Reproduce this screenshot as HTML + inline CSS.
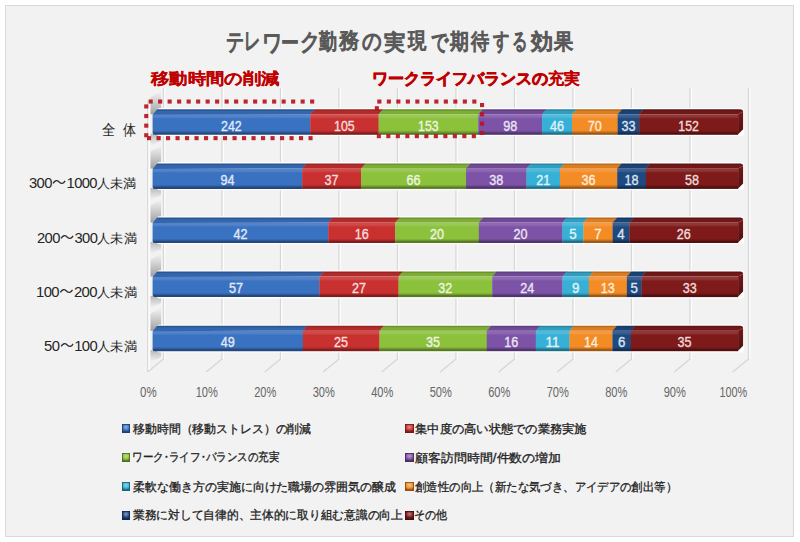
<!DOCTYPE html>
<html lang="ja"><head><meta charset="utf-8">
<style>
html,body{margin:0;padding:0;background:#fff;}
body{width:800px;height:542px;position:relative;overflow:hidden;font-family:"Liberation Sans",sans-serif;}
.frame{position:absolute;left:4.5px;top:5px;width:787.7px;height:530.1px;border:1.8px solid #d9d9d9;background:#f2f2f2;}
svg.ch{position:absolute;left:0;top:0}
.dl{font-family:"Liberation Sans",sans-serif;font-size:14px;}
.ax{font-family:"Liberation Sans",sans-serif;font-size:14px;fill:#666666;}
.tx{position:absolute;line-height:1;white-space:nowrap;transform-origin:0 0}
.nd{display:inline-block;width:0.5em;text-indent:-0.25em;overflow:visible}
.wv{display:inline-block;vertical-align:0.15em;margin:0 0.5px}
.tc{position:absolute;top:31.0px;width:30px;text-align:center;font-size:22.0px;line-height:1;color:#595959;-webkit-text-stroke:1.4px #595959}
.dg{font-size:1.13em;letter-spacing:-0.04em}
.lm{position:absolute;width:8.3px;height:9.2px}
</style></head><body>
<div class="frame"></div>

<svg class="ch" width="800" height="542" viewBox="0 0 800 542">
<defs><linearGradient id="f0" x1="0" y1="0" x2="0" y2="1">
<stop offset="0" stop-color="#5384c9"/><stop offset="0.12" stop-color="#5384c9"/>
<stop offset="0.22" stop-color="#3a72c2"/><stop offset="0.78" stop-color="#3a72c2"/>
<stop offset="0.86" stop-color="#3162a6"/><stop offset="0.92" stop-color="#25487c"/><stop offset="1" stop-color="#25487c"/></linearGradient>
<linearGradient id="c0" x1="0" y1="0" x2="0" y2="1"><stop offset="0" stop-color="#3466ae"/><stop offset="0.25" stop-color="#3162a6"/><stop offset="1" stop-color="#25487c"/></linearGradient>
<linearGradient id="t0" x1="0" y1="0" x2="0" y2="1">
<stop offset="0" stop-color="#2c5693"/><stop offset="0.2" stop-color="#2c5693"/>
<stop offset="0.4" stop-color="#3466ae"/><stop offset="1" stop-color="#3466ae"/></linearGradient><linearGradient id="f1" x1="0" y1="0" x2="0" y2="1">
<stop offset="0" stop-color="#d04a4a"/><stop offset="0.12" stop-color="#d04a4a"/>
<stop offset="0.22" stop-color="#c93030"/><stop offset="0.78" stop-color="#c93030"/>
<stop offset="0.86" stop-color="#ac2929"/><stop offset="0.92" stop-color="#801e1e"/><stop offset="1" stop-color="#801e1e"/></linearGradient>
<linearGradient id="c1" x1="0" y1="0" x2="0" y2="1"><stop offset="0" stop-color="#b42b2b"/><stop offset="0.25" stop-color="#ac2929"/><stop offset="1" stop-color="#801e1e"/></linearGradient>
<linearGradient id="t1" x1="0" y1="0" x2="0" y2="1">
<stop offset="0" stop-color="#982424"/><stop offset="0.2" stop-color="#982424"/>
<stop offset="0.4" stop-color="#b42b2b"/><stop offset="1" stop-color="#b42b2b"/></linearGradient><linearGradient id="f2" x1="0" y1="0" x2="0" y2="1">
<stop offset="0" stop-color="#9ac955"/><stop offset="0.12" stop-color="#9ac955"/>
<stop offset="0.22" stop-color="#8cc13c"/><stop offset="0.78" stop-color="#8cc13c"/>
<stop offset="0.86" stop-color="#78a533"/><stop offset="0.92" stop-color="#597b26"/><stop offset="1" stop-color="#597b26"/></linearGradient>
<linearGradient id="c2" x1="0" y1="0" x2="0" y2="1"><stop offset="0" stop-color="#7ead36"/><stop offset="0.25" stop-color="#78a533"/><stop offset="1" stop-color="#597b26"/></linearGradient>
<linearGradient id="t2" x1="0" y1="0" x2="0" y2="1">
<stop offset="0" stop-color="#6a922d"/><stop offset="0.2" stop-color="#6a922d"/>
<stop offset="0.4" stop-color="#7ead36"/><stop offset="1" stop-color="#7ead36"/></linearGradient><linearGradient id="f3" x1="0" y1="0" x2="0" y2="1">
<stop offset="0" stop-color="#8d69b3"/><stop offset="0.12" stop-color="#8d69b3"/>
<stop offset="0.22" stop-color="#7d53a8"/><stop offset="0.78" stop-color="#7d53a8"/>
<stop offset="0.86" stop-color="#6b4790"/><stop offset="0.92" stop-color="#50356b"/><stop offset="1" stop-color="#50356b"/></linearGradient>
<linearGradient id="c3" x1="0" y1="0" x2="0" y2="1"><stop offset="0" stop-color="#704a97"/><stop offset="0.25" stop-color="#6b4790"/><stop offset="1" stop-color="#50356b"/></linearGradient>
<linearGradient id="t3" x1="0" y1="0" x2="0" y2="1">
<stop offset="0" stop-color="#5f3f7f"/><stop offset="0.2" stop-color="#5f3f7f"/>
<stop offset="0.4" stop-color="#704a97"/><stop offset="1" stop-color="#704a97"/></linearGradient><linearGradient id="f4" x1="0" y1="0" x2="0" y2="1">
<stop offset="0" stop-color="#50badb"/><stop offset="0.12" stop-color="#50badb"/>
<stop offset="0.22" stop-color="#36b0d6"/><stop offset="0.78" stop-color="#36b0d6"/>
<stop offset="0.86" stop-color="#2e97b8"/><stop offset="0.92" stop-color="#227088"/><stop offset="1" stop-color="#227088"/></linearGradient>
<linearGradient id="c4" x1="0" y1="0" x2="0" y2="1"><stop offset="0" stop-color="#309ec0"/><stop offset="0.25" stop-color="#2e97b8"/><stop offset="1" stop-color="#227088"/></linearGradient>
<linearGradient id="t4" x1="0" y1="0" x2="0" y2="1">
<stop offset="0" stop-color="#2985a2"/><stop offset="0.2" stop-color="#2985a2"/>
<stop offset="0.4" stop-color="#309ec0"/><stop offset="1" stop-color="#309ec0"/></linearGradient><linearGradient id="f5" x1="0" y1="0" x2="0" y2="1">
<stop offset="0" stop-color="#f59a42"/><stop offset="0.12" stop-color="#f59a42"/>
<stop offset="0.22" stop-color="#f48c26"/><stop offset="0.78" stop-color="#f48c26"/>
<stop offset="0.86" stop-color="#d17820"/><stop offset="0.92" stop-color="#9c5918"/><stop offset="1" stop-color="#9c5918"/></linearGradient>
<linearGradient id="c5" x1="0" y1="0" x2="0" y2="1"><stop offset="0" stop-color="#db7e22"/><stop offset="0.25" stop-color="#d17820"/><stop offset="1" stop-color="#9c5918"/></linearGradient>
<linearGradient id="t5" x1="0" y1="0" x2="0" y2="1">
<stop offset="0" stop-color="#b96a1c"/><stop offset="0.2" stop-color="#b96a1c"/>
<stop offset="0.4" stop-color="#db7e22"/><stop offset="1" stop-color="#db7e22"/></linearGradient><linearGradient id="f6" x1="0" y1="0" x2="0" y2="1">
<stop offset="0" stop-color="#3b6192"/><stop offset="0.12" stop-color="#3b6192"/>
<stop offset="0.22" stop-color="#1e4a82"/><stop offset="0.78" stop-color="#1e4a82"/>
<stop offset="0.86" stop-color="#193f6f"/><stop offset="0.92" stop-color="#132f53"/><stop offset="1" stop-color="#132f53"/></linearGradient>
<linearGradient id="c6" x1="0" y1="0" x2="0" y2="1"><stop offset="0" stop-color="#1b4275"/><stop offset="0.25" stop-color="#193f6f"/><stop offset="1" stop-color="#132f53"/></linearGradient>
<linearGradient id="t6" x1="0" y1="0" x2="0" y2="1">
<stop offset="0" stop-color="#163862"/><stop offset="0.2" stop-color="#163862"/>
<stop offset="0.4" stop-color="#1b4275"/><stop offset="1" stop-color="#1b4275"/></linearGradient><linearGradient id="f7" x1="0" y1="0" x2="0" y2="1">
<stop offset="0" stop-color="#8e3737"/><stop offset="0.12" stop-color="#8e3737"/>
<stop offset="0.22" stop-color="#7e1a1a"/><stop offset="0.78" stop-color="#7e1a1a"/>
<stop offset="0.86" stop-color="#6c1616"/><stop offset="0.92" stop-color="#501010"/><stop offset="1" stop-color="#501010"/></linearGradient>
<linearGradient id="c7" x1="0" y1="0" x2="0" y2="1"><stop offset="0" stop-color="#711717"/><stop offset="0.25" stop-color="#6c1616"/><stop offset="1" stop-color="#501010"/></linearGradient>
<linearGradient id="t7" x1="0" y1="0" x2="0" y2="1">
<stop offset="0" stop-color="#5f1313"/><stop offset="0.2" stop-color="#5f1313"/>
<stop offset="0.4" stop-color="#711717"/><stop offset="1" stop-color="#711717"/></linearGradient><linearGradient id="shu" x1="0" y1="0" x2="0" y2="1"><stop offset="0" stop-color="#999" stop-opacity="0"/><stop offset="1" stop-color="#8a8a8a" stop-opacity="0.8"/></linearGradient><linearGradient id="shd" x1="0" y1="0" x2="0" y2="1"><stop offset="0" stop-color="#959595" stop-opacity="0.65"/><stop offset="1" stop-color="#aaa" stop-opacity="0"/></linearGradient></defs>
<polyline points="163.5,88 163.5,359 147.7,372" fill="none" stroke="#d6d6d6" stroke-width="1.3"/>
<line x1="164.8" y1="88" x2="164.8" y2="359" stroke="#ffffff" stroke-width="1"/>
<polyline points="222.0,88 222.0,359 206.2,372" fill="none" stroke="#d6d6d6" stroke-width="1.3"/>
<line x1="223.3" y1="88" x2="223.3" y2="359" stroke="#ffffff" stroke-width="1"/>
<polyline points="280.5,88 280.5,359 264.7,372" fill="none" stroke="#d6d6d6" stroke-width="1.3"/>
<line x1="281.8" y1="88" x2="281.8" y2="359" stroke="#ffffff" stroke-width="1"/>
<polyline points="339.0,88 339.0,359 323.2,372" fill="none" stroke="#d6d6d6" stroke-width="1.3"/>
<line x1="340.3" y1="88" x2="340.3" y2="359" stroke="#ffffff" stroke-width="1"/>
<polyline points="397.5,88 397.5,359 381.7,372" fill="none" stroke="#d6d6d6" stroke-width="1.3"/>
<line x1="398.8" y1="88" x2="398.8" y2="359" stroke="#ffffff" stroke-width="1"/>
<polyline points="456.0,88 456.0,359 440.2,372" fill="none" stroke="#d6d6d6" stroke-width="1.3"/>
<line x1="457.3" y1="88" x2="457.3" y2="359" stroke="#ffffff" stroke-width="1"/>
<polyline points="514.5,88 514.5,359 498.7,372" fill="none" stroke="#d6d6d6" stroke-width="1.3"/>
<line x1="515.8" y1="88" x2="515.8" y2="359" stroke="#ffffff" stroke-width="1"/>
<polyline points="573.0,88 573.0,359 557.2,372" fill="none" stroke="#d6d6d6" stroke-width="1.3"/>
<line x1="574.3" y1="88" x2="574.3" y2="359" stroke="#ffffff" stroke-width="1"/>
<polyline points="631.5,88 631.5,359 615.7,372" fill="none" stroke="#d6d6d6" stroke-width="1.3"/>
<line x1="632.8" y1="88" x2="632.8" y2="359" stroke="#ffffff" stroke-width="1"/>
<polyline points="690.0,88 690.0,359 674.2,372" fill="none" stroke="#d6d6d6" stroke-width="1.3"/>
<line x1="691.3" y1="88" x2="691.3" y2="359" stroke="#ffffff" stroke-width="1"/>
<polyline points="748.5,88 748.5,359 732.7,372" fill="none" stroke="#d6d6d6" stroke-width="1.3"/>
<line x1="749.8" y1="88" x2="749.8" y2="359" stroke="#ffffff" stroke-width="1"/>
<polyline points="147.7,101 147.7,372" fill="none" stroke="#dadada" stroke-width="1.3"/>
<line x1="149.2" y1="101" x2="149.2" y2="370" stroke="#ffffff" stroke-width="1.2"/>
<polygon points="150.5,97.3 161,91.3 161,114.3 150.5,114.3" fill="url(#shu)"/>
<polygon points="150.5,133.8 161,133.8 161,140.8 150.5,145.8" fill="url(#shd)"/>
<rect x="156.6" y="108.0" width="587.5" height="28.1" rx="3" fill="#ffffff" opacity="0.9"/>
<path d="M154.6,114.3 L310.5095661846496,114.3 L310.5095661846496,134.8 L154.6,134.8 Q152.6,134.8 152.6,132.8 L152.6,115.3 Q152.6,114.3 154.6,114.3 Z" fill="url(#f0)"/>
<path d="M152.6,114.8 L157.1,109.3 L315.0095661846496,109.3 L310.5095661846496,114.3 Z" fill="url(#t0)"/>
<rect x="310.2095661846496" y="114.3" width="68.68431590656284" height="20.5" fill="url(#f1)"/>
<path d="M310.2095661846496,114.3 L314.7095661846496,109.3 L383.39388209121245,109.3 L378.89388209121245,114.3 Z" fill="url(#t1)"/>
<rect x="378.59388209121244" y="114.3" width="99.94571746384877" height="20.5" fill="url(#f2)"/>
<path d="M378.59388209121244,114.3 L383.09388209121244,109.3 L483.0395995550612,109.3 L478.5395995550612,114.3 Z" fill="url(#t2)"/>
<rect x="478.2395995550612" y="114.3" width="64.12536151279191" height="20.5" fill="url(#f3)"/>
<path d="M478.2395995550612,114.3 L482.7395995550612,109.3 L546.8649610678531,109.3 L542.3649610678531,114.3 Z" fill="url(#t3)"/>
<rect x="542.0649610678531" y="114.3" width="30.258843159065623" height="20.5" fill="url(#f4)"/>
<path d="M542.0649610678531,114.3 L546.5649610678531,109.3 L576.8238042269187,109.3 L572.3238042269187,114.3 Z" fill="url(#t4)"/>
<rect x="572.0238042269187" y="114.3" width="45.88954393770864" height="20.5" fill="url(#f5)"/>
<path d="M572.0238042269187,114.3 L576.5238042269187,109.3 L622.4133481646273,109.3 L617.9133481646273,114.3 Z" fill="url(#t5)"/>
<rect x="617.6133481646274" y="114.3" width="21.792213570634022" height="20.5" fill="url(#f6)"/>
<path d="M617.6133481646274,114.3 L622.1133481646274,109.3 L643.9055617352614,109.3 L639.4055617352614,114.3 Z" fill="url(#t6)"/>
<rect x="639.1055617352614" y="114.3" width="98.99443826473862" height="20.5" fill="url(#f7)"/>
<path d="M738.1,114.3 L743.1,111.8 L743.1,129.3 L737.6,134.8 L738.1,134.8 Z" fill="url(#c7)"/>
<path d="M643.6055617352614,109.3 L740.1,109.3 Q743.1,109.3 743.1,111.8 L738.1,114.3 L639.1055617352614,114.3 Z" fill="url(#t7)"/>
<text x="221.1" y="130.8" class="dl" fill="#e1e9f5" stroke="#e1e9f5" stroke-width="0.35" textLength="20.6" lengthAdjust="spacingAndGlyphs">242</text>
<text x="334.1" y="130.8" class="dl" fill="#f6dfdf" stroke="#f6dfdf" stroke-width="0.35" textLength="20.6" lengthAdjust="spacingAndGlyphs">105</text>
<text x="418.1" y="130.8" class="dl" fill="#edf5e1" stroke="#edf5e1" stroke-width="0.35" textLength="20.6" lengthAdjust="spacingAndGlyphs">153</text>
<text x="503.2" y="130.8" class="dl" fill="#ebe5f1" stroke="#ebe5f1" stroke-width="0.35" textLength="14.0" lengthAdjust="spacingAndGlyphs">98</text>
<text x="550.0" y="130.8" class="dl" fill="#e0f3f8" stroke="#e0f3f8" stroke-width="0.35" textLength="14.0" lengthAdjust="spacingAndGlyphs">46</text>
<text x="587.8" y="130.8" class="dl" fill="#fdedde" stroke="#fdedde" stroke-width="0.35" textLength="14.0" lengthAdjust="spacingAndGlyphs">70</text>
<text x="621.4" y="130.8" class="dl" fill="#dde3ec" stroke="#dde3ec" stroke-width="0.35" textLength="14.0" lengthAdjust="spacingAndGlyphs">33</text>
<text x="678.3" y="130.8" class="dl" fill="#ebdcdc" stroke="#ebdcdc" stroke-width="0.35" textLength="20.6" lengthAdjust="spacingAndGlyphs">152</text>
<polygon points="150.5,151.4 161,145.4 161,168.4 150.5,168.4" fill="url(#shu)"/>
<polygon points="150.5,187.9 161,187.9 161,194.9 150.5,199.9" fill="url(#shd)"/>
<rect x="156.6" y="162.1" width="587.5" height="28.1" rx="3" fill="#ffffff" opacity="0.9"/>
<path d="M154.6,168.4 L302.4570652173913,168.4 L302.4570652173913,188.9 L154.6,188.9 Q152.6,188.9 152.6,186.9 L152.6,169.4 Q152.6,168.4 154.6,168.4 Z" fill="url(#f0)"/>
<path d="M152.6,168.9 L157.1,163.4 L306.9570652173913,163.4 L302.4570652173913,168.4 Z" fill="url(#t0)"/>
<rect x="302.1570652173913" y="168.4" width="59.16820652173912" height="20.5" fill="url(#f1)"/>
<path d="M302.1570652173913,168.4 L306.6570652173913,163.4 L365.8252717391304,163.4 L361.3252717391304,168.4 Z" fill="url(#t1)"/>
<rect x="361.0252717391304" y="168.4" width="105.30815217391311" height="20.5" fill="url(#f2)"/>
<path d="M361.0252717391304,168.4 L365.5252717391304,163.4 L470.83342391304353,163.4 L466.33342391304353,168.4 Z" fill="url(#t2)"/>
<rect x="466.0334239130435" y="168.4" width="60.75923913043475" height="20.5" fill="url(#f3)"/>
<path d="M466.0334239130435,168.4 L470.5334239130435,163.4 L531.2926630434782,163.4 L526.7926630434782,168.4 Z" fill="url(#t3)"/>
<rect x="526.4926630434783" y="168.4" width="33.71168478260863" height="20.5" fill="url(#f4)"/>
<path d="M526.4926630434783,168.4 L530.9926630434783,163.4 L564.7043478260869,163.4 L560.2043478260869,168.4 Z" fill="url(#t4)"/>
<rect x="559.9043478260869" y="168.4" width="57.577173913043495" height="20.5" fill="url(#f5)"/>
<path d="M559.9043478260869,168.4 L564.4043478260869,163.4 L621.9815217391304,163.4 L617.4815217391304,168.4 Z" fill="url(#t5)"/>
<rect x="617.1815217391304" y="168.4" width="28.93858695652175" height="20.5" fill="url(#f6)"/>
<path d="M617.1815217391304,168.4 L621.6815217391304,163.4 L650.6201086956521,163.4 L646.1201086956521,168.4 Z" fill="url(#t6)"/>
<rect x="645.8201086956522" y="168.4" width="92.27989130434787" height="20.5" fill="url(#f7)"/>
<path d="M738.1,168.4 L743.1,165.9 L743.1,183.4 L737.6,188.9 L738.1,188.9 Z" fill="url(#c7)"/>
<path d="M650.3201086956522,163.4 L740.1,163.4 Q743.1,163.4 743.1,165.9 L738.1,168.4 L645.8201086956522,168.4 Z" fill="url(#t7)"/>
<text x="220.4" y="184.9" class="dl" fill="#e1e9f5" stroke="#e1e9f5" stroke-width="0.35" textLength="14.0" lengthAdjust="spacingAndGlyphs">94</text>
<text x="324.6" y="184.9" class="dl" fill="#f6dfdf" stroke="#f6dfdf" stroke-width="0.35" textLength="14.0" lengthAdjust="spacingAndGlyphs">37</text>
<text x="406.5" y="184.9" class="dl" fill="#edf5e1" stroke="#edf5e1" stroke-width="0.35" textLength="14.0" lengthAdjust="spacingAndGlyphs">66</text>
<text x="489.3" y="184.9" class="dl" fill="#ebe5f1" stroke="#ebe5f1" stroke-width="0.35" textLength="14.0" lengthAdjust="spacingAndGlyphs">38</text>
<text x="536.2" y="184.9" class="dl" fill="#e0f3f8" stroke="#e0f3f8" stroke-width="0.35" textLength="14.0" lengthAdjust="spacingAndGlyphs">21</text>
<text x="581.5" y="184.9" class="dl" fill="#fdedde" stroke="#fdedde" stroke-width="0.35" textLength="14.0" lengthAdjust="spacingAndGlyphs">36</text>
<text x="624.5" y="184.9" class="dl" fill="#dde3ec" stroke="#dde3ec" stroke-width="0.35" textLength="14.0" lengthAdjust="spacingAndGlyphs">18</text>
<text x="685.0" y="184.9" class="dl" fill="#ebdcdc" stroke="#ebdcdc" stroke-width="0.35" textLength="14.0" lengthAdjust="spacingAndGlyphs">58</text>
<polygon points="150.5,205.5 161,199.5 161,222.5 150.5,222.5" fill="url(#shu)"/>
<polygon points="150.5,242.0 161,242.0 161,249.0 150.5,254.0" fill="url(#shd)"/>
<rect x="156.6" y="216.2" width="587.5" height="28.1" rx="3" fill="#ffffff" opacity="0.9"/>
<path d="M154.6,222.5 L328.55,222.5 L328.55,243.0 L154.6,243.0 Q152.6,243.0 152.6,241.0 L152.6,223.5 Q152.6,222.5 154.6,222.5 Z" fill="url(#f0)"/>
<path d="M152.6,223.0 L157.1,217.5 L333.05,217.5 L328.55,222.5 Z" fill="url(#t0)"/>
<rect x="328.25" y="222.5" width="67.21428571428571" height="20.5" fill="url(#f1)"/>
<path d="M328.25,222.5 L332.75,217.5 L399.9642857142857,217.5 L395.4642857142857,222.5 Z" fill="url(#t1)"/>
<rect x="395.1642857142857" y="222.5" width="83.94285714285711" height="20.5" fill="url(#f2)"/>
<path d="M395.1642857142857,222.5 L399.6642857142857,217.5 L483.60714285714283,217.5 L479.10714285714283,222.5 Z" fill="url(#t2)"/>
<rect x="478.8071428571428" y="222.5" width="83.94285714285722" height="20.5" fill="url(#f3)"/>
<path d="M478.8071428571428,222.5 L483.3071428571428,217.5 L567.25,217.5 L562.75,222.5 Z" fill="url(#t3)"/>
<rect x="562.45" y="222.5" width="21.21071428571422" height="20.5" fill="url(#f4)"/>
<path d="M562.45,222.5 L566.95,217.5 L588.1607142857142,217.5 L583.6607142857142,222.5 Z" fill="url(#t4)"/>
<rect x="583.3607142857143" y="222.5" width="29.574999999999978" height="20.5" fill="url(#f5)"/>
<path d="M583.3607142857143,222.5 L587.8607142857143,217.5 L617.4357142857142,217.5 L612.9357142857142,222.5 Z" fill="url(#t5)"/>
<rect x="612.6357142857142" y="222.5" width="17.028571428571514" height="20.5" fill="url(#f6)"/>
<path d="M612.6357142857142,222.5 L617.1357142857142,217.5 L634.1642857142857,217.5 L629.6642857142857,222.5 Z" fill="url(#t6)"/>
<rect x="629.3642857142858" y="222.5" width="108.73571428571427" height="20.5" fill="url(#f7)"/>
<path d="M738.1,222.5 L743.1,220.0 L743.1,237.5 L737.6,243.0 L738.1,243.0 Z" fill="url(#c7)"/>
<path d="M633.8642857142858,217.5 L740.1,217.5 Q743.1,217.5 743.1,220.0 L738.1,222.5 L629.3642857142858,222.5 Z" fill="url(#t7)"/>
<text x="233.4" y="239.0" class="dl" fill="#e1e9f5" stroke="#e1e9f5" stroke-width="0.35" textLength="14.0" lengthAdjust="spacingAndGlyphs">42</text>
<text x="354.7" y="239.0" class="dl" fill="#f6dfdf" stroke="#f6dfdf" stroke-width="0.35" textLength="14.0" lengthAdjust="spacingAndGlyphs">16</text>
<text x="430.0" y="239.0" class="dl" fill="#edf5e1" stroke="#edf5e1" stroke-width="0.35" textLength="14.0" lengthAdjust="spacingAndGlyphs">20</text>
<text x="513.6" y="239.0" class="dl" fill="#ebe5f1" stroke="#ebe5f1" stroke-width="0.35" textLength="14.0" lengthAdjust="spacingAndGlyphs">20</text>
<text x="569.2" y="239.0" class="dl" fill="#e0f3f8" stroke="#e0f3f8" stroke-width="0.35" textLength="7.4" lengthAdjust="spacingAndGlyphs">5</text>
<text x="594.3" y="239.0" class="dl" fill="#fdedde" stroke="#fdedde" stroke-width="0.35" textLength="7.4" lengthAdjust="spacingAndGlyphs">7</text>
<text x="617.3" y="239.0" class="dl" fill="#dde3ec" stroke="#dde3ec" stroke-width="0.35" textLength="7.4" lengthAdjust="spacingAndGlyphs">4</text>
<text x="676.7" y="239.0" class="dl" fill="#ebdcdc" stroke="#ebdcdc" stroke-width="0.35" textLength="14.0" lengthAdjust="spacingAndGlyphs">26</text>
<polygon points="150.5,259.6 161,253.60000000000002 161,276.6 150.5,276.6" fill="url(#shu)"/>
<polygon points="150.5,296.1 161,296.1 161,303.1 150.5,308.1" fill="url(#shd)"/>
<rect x="156.6" y="270.3" width="587.5" height="28.1" rx="3" fill="#ffffff" opacity="0.9"/>
<path d="M154.6,276.6 L319.7675,276.6 L319.7675,297.1 L154.6,297.1 Q152.6,297.1 152.6,295.1 L152.6,277.6 Q152.6,276.6 154.6,276.6 Z" fill="url(#f0)"/>
<path d="M152.6,277.1 L157.1,271.6 L324.2675,271.6 L319.7675,276.6 Z" fill="url(#t0)"/>
<rect x="319.4675" y="276.6" width="79.34250000000002" height="20.5" fill="url(#f1)"/>
<path d="M319.4675,276.6 L323.9675,271.6 L403.31,271.6 L398.81,276.6 Z" fill="url(#t1)"/>
<rect x="398.51" y="276.6" width="93.97999999999995" height="20.5" fill="url(#f2)"/>
<path d="M398.51,276.6 L403.01,271.6 L496.98999999999995,271.6 L492.48999999999995,276.6 Z" fill="url(#t2)"/>
<rect x="492.18999999999994" y="276.6" width="70.5600000000001" height="20.5" fill="url(#f3)"/>
<path d="M492.18999999999994,276.6 L496.68999999999994,271.6 L567.25,271.6 L562.75,276.6 Z" fill="url(#t3)"/>
<rect x="562.45" y="276.6" width="26.64749999999997" height="20.5" fill="url(#f4)"/>
<path d="M562.45,276.6 L566.95,271.6 L593.5975,271.6 L589.0975,276.6 Z" fill="url(#t4)"/>
<rect x="588.7975" y="276.6" width="38.3575" height="20.5" fill="url(#f5)"/>
<path d="M588.7975,276.6 L593.2975,271.6 L631.655,271.6 L627.155,276.6 Z" fill="url(#t5)"/>
<rect x="626.855" y="276.6" width="14.937499999999932" height="20.5" fill="url(#f6)"/>
<path d="M626.855,276.6 L631.355,271.6 L646.2924999999999,271.6 L641.7924999999999,276.6 Z" fill="url(#t6)"/>
<rect x="641.4925" y="276.6" width="96.60750000000007" height="20.5" fill="url(#f7)"/>
<path d="M738.1,276.6 L743.1,274.1 L743.1,291.6 L737.6,297.1 L738.1,297.1 Z" fill="url(#c7)"/>
<path d="M645.9925,271.6 L740.1,271.6 Q743.1,271.6 743.1,274.1 L738.1,276.6 L641.4925,276.6 Z" fill="url(#t7)"/>
<text x="229.0" y="293.1" class="dl" fill="#e1e9f5" stroke="#e1e9f5" stroke-width="0.35" textLength="14.0" lengthAdjust="spacingAndGlyphs">57</text>
<text x="352.0" y="293.1" class="dl" fill="#f6dfdf" stroke="#f6dfdf" stroke-width="0.35" textLength="14.0" lengthAdjust="spacingAndGlyphs">27</text>
<text x="438.3" y="293.1" class="dl" fill="#edf5e1" stroke="#edf5e1" stroke-width="0.35" textLength="14.0" lengthAdjust="spacingAndGlyphs">32</text>
<text x="520.3" y="293.1" class="dl" fill="#ebe5f1" stroke="#ebe5f1" stroke-width="0.35" textLength="14.0" lengthAdjust="spacingAndGlyphs">24</text>
<text x="571.9" y="293.1" class="dl" fill="#e0f3f8" stroke="#e0f3f8" stroke-width="0.35" textLength="7.4" lengthAdjust="spacingAndGlyphs">9</text>
<text x="600.8" y="293.1" class="dl" fill="#fdedde" stroke="#fdedde" stroke-width="0.35" textLength="14.0" lengthAdjust="spacingAndGlyphs">13</text>
<text x="630.5" y="293.1" class="dl" fill="#dde3ec" stroke="#dde3ec" stroke-width="0.35" textLength="7.4" lengthAdjust="spacingAndGlyphs">5</text>
<text x="682.8" y="293.1" class="dl" fill="#ebdcdc" stroke="#ebdcdc" stroke-width="0.35" textLength="14.0" lengthAdjust="spacingAndGlyphs">33</text>
<polygon points="150.5,313.7 161,307.7 161,330.7 150.5,330.7" fill="url(#shu)"/>
<polygon points="150.5,350.2 161,350.2 161,357.2 150.5,362.2" fill="url(#shd)"/>
<rect x="156.6" y="324.4" width="587.5" height="28.1" rx="3" fill="#ffffff" opacity="0.9"/>
<path d="M154.6,330.7 L303.1068062827225,330.7 L303.1068062827225,351.2 L154.6,351.2 Q152.6,351.2 152.6,349.2 L152.6,331.7 Q152.6,330.7 154.6,330.7 Z" fill="url(#f0)"/>
<path d="M152.6,331.2 L157.1,325.7 L307.6068062827225,325.7 L303.1068062827225,330.7 Z" fill="url(#t0)"/>
<rect x="302.8068062827225" y="330.7" width="76.93612565445027" height="20.5" fill="url(#f1)"/>
<path d="M302.8068062827225,330.7 L307.3068062827225,325.7 L384.2429319371728,325.7 L379.7429319371728,330.7 Z" fill="url(#t1)"/>
<rect x="379.4429319371728" y="330.7" width="107.59057591623035" height="20.5" fill="url(#f2)"/>
<path d="M379.4429319371728,330.7 L383.9429319371728,325.7 L491.53350785340314,325.7 L487.03350785340314,330.7 Z" fill="url(#t2)"/>
<rect x="486.7335078534031" y="330.7" width="49.34712041884818" height="20.5" fill="url(#f3)"/>
<path d="M486.7335078534031,330.7 L491.2335078534031,325.7 L540.5806282722513,325.7 L536.0806282722513,330.7 Z" fill="url(#t3)"/>
<rect x="535.7806282722513" y="330.7" width="34.019895287958136" height="20.5" fill="url(#f4)"/>
<path d="M535.7806282722513,330.7 L540.2806282722513,325.7 L574.3005235602094,325.7 L569.8005235602094,330.7 Z" fill="url(#t4)"/>
<rect x="569.5005235602094" y="330.7" width="43.21623036649207" height="20.5" fill="url(#f5)"/>
<path d="M569.5005235602094,330.7 L574.0005235602094,325.7 L617.2167539267015,325.7 L612.7167539267015,330.7 Z" fill="url(#t5)"/>
<rect x="612.4167539267015" y="330.7" width="18.692670157068097" height="20.5" fill="url(#f6)"/>
<path d="M612.4167539267015,330.7 L616.9167539267015,325.7 L635.6094240837696,325.7 L631.1094240837696,330.7 Z" fill="url(#t6)"/>
<rect x="630.8094240837696" y="330.7" width="107.29057591623041" height="20.5" fill="url(#f7)"/>
<path d="M738.1,330.7 L743.1,328.2 L743.1,345.7 L737.6,351.2 L738.1,351.2 Z" fill="url(#c7)"/>
<path d="M635.3094240837696,325.7 L740.1,325.7 Q743.1,325.7 743.1,328.2 L738.1,330.7 L630.8094240837696,330.7 Z" fill="url(#t7)"/>
<text x="220.7" y="347.2" class="dl" fill="#e1e9f5" stroke="#e1e9f5" stroke-width="0.35" textLength="14.0" lengthAdjust="spacingAndGlyphs">49</text>
<text x="334.1" y="347.2" class="dl" fill="#f6dfdf" stroke="#f6dfdf" stroke-width="0.35" textLength="14.0" lengthAdjust="spacingAndGlyphs">25</text>
<text x="426.1" y="347.2" class="dl" fill="#edf5e1" stroke="#edf5e1" stroke-width="0.35" textLength="14.0" lengthAdjust="spacingAndGlyphs">35</text>
<text x="504.3" y="347.2" class="dl" fill="#ebe5f1" stroke="#ebe5f1" stroke-width="0.35" textLength="14.0" lengthAdjust="spacingAndGlyphs">16</text>
<text x="545.6" y="347.2" class="dl" fill="#e0f3f8" stroke="#e0f3f8" stroke-width="0.35" textLength="14.0" lengthAdjust="spacingAndGlyphs">11</text>
<text x="584.0" y="347.2" class="dl" fill="#fdedde" stroke="#fdedde" stroke-width="0.35" textLength="14.0" lengthAdjust="spacingAndGlyphs">14</text>
<text x="617.9" y="347.2" class="dl" fill="#dde3ec" stroke="#dde3ec" stroke-width="0.35" textLength="7.4" lengthAdjust="spacingAndGlyphs">6</text>
<text x="677.5" y="347.2" class="dl" fill="#ebdcdc" stroke="#ebdcdc" stroke-width="0.35" textLength="14.0" lengthAdjust="spacingAndGlyphs">35</text>
<rect x="148.6" y="99.5" width="4.1" height="4.1" fill="#b8121c" opacity="0.92"/><rect x="158.1" y="99.5" width="4.1" height="4.1" fill="#b8121c" opacity="0.92"/><rect x="167.6" y="99.5" width="4.1" height="4.1" fill="#b8121c" opacity="0.92"/><rect x="177.1" y="99.5" width="4.1" height="4.1" fill="#b8121c" opacity="0.92"/><rect x="186.6" y="99.5" width="4.1" height="4.1" fill="#b8121c" opacity="0.92"/><rect x="196.1" y="99.5" width="4.1" height="4.1" fill="#b8121c" opacity="0.92"/><rect x="205.6" y="99.5" width="4.1" height="4.1" fill="#b8121c" opacity="0.92"/><rect x="215.1" y="99.5" width="4.1" height="4.1" fill="#b8121c" opacity="0.92"/><rect x="224.6" y="99.5" width="4.1" height="4.1" fill="#b8121c" opacity="0.92"/><rect x="234.1" y="99.5" width="4.1" height="4.1" fill="#b8121c" opacity="0.92"/><rect x="243.6" y="99.5" width="4.1" height="4.1" fill="#b8121c" opacity="0.92"/><rect x="253.1" y="99.5" width="4.1" height="4.1" fill="#b8121c" opacity="0.92"/><rect x="262.6" y="99.5" width="4.1" height="4.1" fill="#b8121c" opacity="0.92"/><rect x="272.1" y="99.5" width="4.1" height="4.1" fill="#b8121c" opacity="0.92"/><rect x="281.6" y="99.5" width="4.1" height="4.1" fill="#b8121c" opacity="0.92"/><rect x="291.1" y="99.5" width="4.1" height="4.1" fill="#b8121c" opacity="0.92"/><rect x="300.6" y="99.5" width="4.1" height="4.1" fill="#b8121c" opacity="0.92"/><rect x="310.1" y="99.5" width="4.1" height="4.1" fill="#b8121c" opacity="0.92"/><rect x="147.0" y="136.1" width="4.1" height="4.1" fill="#b8121c" opacity="0.92"/><rect x="156.5" y="136.1" width="4.1" height="4.1" fill="#b8121c" opacity="0.92"/><rect x="166.0" y="136.1" width="4.1" height="4.1" fill="#b8121c" opacity="0.92"/><rect x="175.5" y="136.1" width="4.1" height="4.1" fill="#b8121c" opacity="0.92"/><rect x="185.0" y="136.1" width="4.1" height="4.1" fill="#b8121c" opacity="0.92"/><rect x="194.5" y="136.1" width="4.1" height="4.1" fill="#b8121c" opacity="0.92"/><rect x="204.0" y="136.1" width="4.1" height="4.1" fill="#b8121c" opacity="0.92"/><rect x="213.5" y="136.1" width="4.1" height="4.1" fill="#b8121c" opacity="0.92"/><rect x="223.0" y="136.1" width="4.1" height="4.1" fill="#b8121c" opacity="0.92"/><rect x="232.5" y="136.1" width="4.1" height="4.1" fill="#b8121c" opacity="0.92"/><rect x="242.0" y="136.1" width="4.1" height="4.1" fill="#b8121c" opacity="0.92"/><rect x="251.5" y="136.1" width="4.1" height="4.1" fill="#b8121c" opacity="0.92"/><rect x="261.0" y="136.1" width="4.1" height="4.1" fill="#b8121c" opacity="0.92"/><rect x="270.5" y="136.1" width="4.1" height="4.1" fill="#b8121c" opacity="0.92"/><rect x="280.0" y="136.1" width="4.1" height="4.1" fill="#b8121c" opacity="0.92"/><rect x="289.5" y="136.1" width="4.1" height="4.1" fill="#b8121c" opacity="0.92"/><rect x="299.0" y="136.1" width="4.1" height="4.1" fill="#b8121c" opacity="0.92"/><rect x="308.5" y="136.1" width="4.1" height="4.1" fill="#b8121c" opacity="0.92"/><rect x="144.2" y="104.4" width="4.1" height="4.1" fill="#b8121c" opacity="0.92"/><rect x="144.2" y="114.0" width="4.1" height="4.1" fill="#b8121c" opacity="0.92"/><rect x="144.2" y="123.6" width="4.1" height="4.1" fill="#b8121c" opacity="0.92"/><rect x="144.2" y="133.2" width="4.1" height="4.1" fill="#b8121c" opacity="0.92"/><rect x="377.3" y="99.5" width="4.1" height="4.1" fill="#b8121c" opacity="0.92"/><rect x="386.8" y="99.5" width="4.1" height="4.1" fill="#b8121c" opacity="0.92"/><rect x="396.3" y="99.5" width="4.1" height="4.1" fill="#b8121c" opacity="0.92"/><rect x="405.8" y="99.5" width="4.1" height="4.1" fill="#b8121c" opacity="0.92"/><rect x="415.3" y="99.5" width="4.1" height="4.1" fill="#b8121c" opacity="0.92"/><rect x="424.8" y="99.5" width="4.1" height="4.1" fill="#b8121c" opacity="0.92"/><rect x="434.3" y="99.5" width="4.1" height="4.1" fill="#b8121c" opacity="0.92"/><rect x="443.8" y="99.5" width="4.1" height="4.1" fill="#b8121c" opacity="0.92"/><rect x="453.3" y="99.5" width="4.1" height="4.1" fill="#b8121c" opacity="0.92"/><rect x="462.8" y="99.5" width="4.1" height="4.1" fill="#b8121c" opacity="0.92"/><rect x="472.3" y="99.5" width="4.1" height="4.1" fill="#b8121c" opacity="0.92"/><rect x="376.8" y="134.1" width="4.1" height="4.1" fill="#b8121c" opacity="0.92"/><rect x="386.3" y="134.1" width="4.1" height="4.1" fill="#b8121c" opacity="0.92"/><rect x="395.8" y="134.1" width="4.1" height="4.1" fill="#b8121c" opacity="0.92"/><rect x="405.3" y="134.1" width="4.1" height="4.1" fill="#b8121c" opacity="0.92"/><rect x="414.8" y="134.1" width="4.1" height="4.1" fill="#b8121c" opacity="0.92"/><rect x="424.3" y="134.1" width="4.1" height="4.1" fill="#b8121c" opacity="0.92"/><rect x="433.8" y="134.1" width="4.1" height="4.1" fill="#b8121c" opacity="0.92"/><rect x="443.3" y="134.1" width="4.1" height="4.1" fill="#b8121c" opacity="0.92"/><rect x="452.8" y="134.1" width="4.1" height="4.1" fill="#b8121c" opacity="0.92"/><rect x="462.3" y="134.1" width="4.1" height="4.1" fill="#b8121c" opacity="0.92"/><rect x="471.8" y="134.1" width="4.1" height="4.1" fill="#b8121c" opacity="0.92"/><rect x="374.8" y="106.2" width="4.1" height="4.1" fill="#b8121c" opacity="0.92"/><rect x="480.0" y="103.0" width="4.1" height="4.1" fill="#b8121c" opacity="0.92"/><rect x="480.0" y="112.3" width="4.1" height="4.1" fill="#b8121c" opacity="0.92"/><rect x="480.0" y="121.6" width="4.1" height="4.1" fill="#b8121c" opacity="0.92"/><rect x="480.0" y="130.9" width="4.1" height="4.1" fill="#b8121c" opacity="0.92"/>
<text x="140.0" y="397" class="ax" textLength="16.6" lengthAdjust="spacingAndGlyphs">0%</text>
<text x="195.7" y="397" class="ax" textLength="22.2" lengthAdjust="spacingAndGlyphs">10%</text>
<text x="254.2" y="397" class="ax" textLength="22.2" lengthAdjust="spacingAndGlyphs">20%</text>
<text x="312.7" y="397" class="ax" textLength="22.2" lengthAdjust="spacingAndGlyphs">30%</text>
<text x="371.2" y="397" class="ax" textLength="22.2" lengthAdjust="spacingAndGlyphs">40%</text>
<text x="429.7" y="397" class="ax" textLength="22.2" lengthAdjust="spacingAndGlyphs">50%</text>
<text x="488.2" y="397" class="ax" textLength="22.2" lengthAdjust="spacingAndGlyphs">60%</text>
<text x="546.7" y="397" class="ax" textLength="22.2" lengthAdjust="spacingAndGlyphs">70%</text>
<text x="605.2" y="397" class="ax" textLength="22.2" lengthAdjust="spacingAndGlyphs">80%</text>
<text x="663.7" y="397" class="ax" textLength="22.2" lengthAdjust="spacingAndGlyphs">90%</text>
<text x="719.4" y="397" class="ax" textLength="27.8" lengthAdjust="spacingAndGlyphs">100%</text>
</svg>
<div id="t_tk00" class="tx" style="left:226.20px;top:30.97px;font-size:23.50px;transform:scaleX(0.7489);color:#595959;-webkit-text-stroke:1.3px #595959">テ</div><div id="t_tk01" class="tx" style="left:243.59px;top:30.44px;font-size:23.50px;transform:scaleX(0.6807);color:#595959;-webkit-text-stroke:1.3px #595959">レ</div><div id="t_tk02" class="tx" style="left:262.22px;top:32.44px;font-size:23.50px;transform:scaleX(0.8365);color:#595959;-webkit-text-stroke:1.3px #595959">ワ</div><div id="t_tk03" class="tx" style="left:281.20px;top:31.56px;font-size:23.50px;transform:scaleX(0.7489);color:#595959;-webkit-text-stroke:1.3px #595959">ー</div><div id="t_tk04" class="tx" style="left:300.11px;top:30.50px;font-size:23.50px;transform:scaleX(0.8322);color:#595959;-webkit-text-stroke:1.3px #595959">ク</div><div id="t_tj05" class="tx" style="left:318.82px;top:30.60px;font-size:22.00px;transform:scaleX(0.8182);color:#595959;-webkit-text-stroke:1.3px #595959">勤</div><div id="t_tj06" class="tx" style="left:339.00px;top:30.10px;font-size:22.00px;transform:scaleX(0.9091);color:#595959;-webkit-text-stroke:1.3px #595959">務</div><div id="t_th07" class="tx" style="left:361.68px;top:30.52px;font-size:22.50px;transform:scaleX(0.8473);color:#595959;-webkit-text-stroke:1.3px #595959">の</div><div id="t_tj08" class="tx" style="left:384.05px;top:32.10px;font-size:22.00px;transform:scaleX(0.9675);color:#595959;-webkit-text-stroke:1.3px #595959">実</div><div id="t_tj09" class="tx" style="left:407.83px;top:30.10px;font-size:22.00px;transform:scaleX(0.8360);color:#595959;-webkit-text-stroke:1.3px #595959">現</div><div id="t_th10" class="tx" style="left:430.63px;top:31.55px;font-size:22.50px;transform:scaleX(0.7489);color:#595959;-webkit-text-stroke:1.3px #595959">で</div><div id="t_tj11" class="tx" style="left:450.00px;top:31.10px;font-size:22.00px;transform:scaleX(0.8571);color:#595959;-webkit-text-stroke:1.3px #595959">期</div><div id="t_tj12" class="tx" style="left:471.41px;top:30.60px;font-size:22.00px;transform:scaleX(0.8261);color:#595959;-webkit-text-stroke:1.3px #595959">待</div><div id="t_th13" class="tx" style="left:492.73px;top:30.57px;font-size:22.50px;transform:scaleX(0.7111);color:#595959;-webkit-text-stroke:1.3px #595959">す</div><div id="t_th14" class="tx" style="left:512.32px;top:31.08px;font-size:22.50px;transform:scaleX(0.6690);color:#595959;-webkit-text-stroke:1.3px #595959">る</div><div id="t_tj15" class="tx" style="left:531.00px;top:30.60px;font-size:22.00px;transform:scaleX(1.0000);color:#595959;-webkit-text-stroke:1.3px #595959">効</div><div id="t_tj16" class="tx" style="left:553.85px;top:30.60px;font-size:22.00px;transform:scaleX(0.8723);color:#595959;-webkit-text-stroke:1.3px #595959">果</div><div id="t_ann1" class="tx" style="left:150.76px;top:71.06px;font-size:16.00px;transform:scaleX(1.1458);font-weight:bold;color:#c00000;-webkit-text-stroke:0.15px #c00000">移動時間の削減</div><div id="t_ann2" class="tx" style="left:371.50px;top:71.35px;font-size:16.00px;transform:scaleX(1.0013);font-weight:bold;color:#c00000;-webkit-text-stroke:0.75px #c00000">ワークライフバランスの<span style='-webkit-text-stroke:0.15px #c00000'>充実</span></div><div id="t_c0a" class="tx" style="left:102.00px;top:121.80px;font-size:15.00px;transform:scaleX(0.8906);color:#262626">全</div><div id="t_c0b" class="tx" style="left:123.00px;top:121.80px;font-size:15.00px;transform:scaleX(0.8638);color:#262626">体</div><div id="t_c1" class="tx" style="left:29.34px;top:176.22px;font-size:12.90px;transform:scaleX(1.0121);color:#262626"><span class=dg>300</span><svg class=wv width=13 height=8 viewBox="0 0 13 8" style="width:1.05em;height:0.65em"><path d="M0.8,5.2 C2.5,2.2 4.5,1.8 6.5,3.8 C8.5,5.8 10.5,5.8 12.2,2.8" fill=none stroke="#303030" stroke-width="1.25"/></svg><span class=dg>1000</span>人未満</div><div id="t_c2" class="tx" style="left:37.14px;top:231.20px;font-size:12.90px;transform:scaleX(1.0108);color:#262626"><span class=dg>200</span><svg class=wv width=13 height=8 viewBox="0 0 13 8" style="width:1.05em;height:0.65em"><path d="M0.8,5.2 C2.5,2.2 4.5,1.8 6.5,3.8 C8.5,5.8 10.5,5.8 12.2,2.8" fill=none stroke="#303030" stroke-width="1.25"/></svg><span class=dg>300</span>人未満</div><div id="t_c3" class="tx" style="left:35.98px;top:285.20px;font-size:12.90px;transform:scaleX(1.0218);color:#262626"><span class=dg>100</span><svg class=wv width=13 height=8 viewBox="0 0 13 8" style="width:1.05em;height:0.65em"><path d="M0.8,5.2 C2.5,2.2 4.5,1.8 6.5,3.8 C8.5,5.8 10.5,5.8 12.2,2.8" fill=none stroke="#303030" stroke-width="1.25"/></svg><span class=dg>200</span>人未満</div><div id="t_c4" class="tx" style="left:44.10px;top:339.20px;font-size:12.90px;transform:scaleX(1.0188);color:#262626"><span class=dg>50</span><svg class=wv width=13 height=8 viewBox="0 0 13 8" style="width:1.05em;height:0.65em"><path d="M0.8,5.2 C2.5,2.2 4.5,1.8 6.5,3.8 C8.5,5.8 10.5,5.8 12.2,2.8" fill=none stroke="#303030" stroke-width="1.25"/></svg><span class=dg>100</span>人未満</div><div id="t_l1" class="tx" style="left:133.03px;top:422.61px;font-size:12.30px;transform:scaleX(0.9900);color:#222222;-webkit-text-stroke:0.3px #222222">移動時間（移動ストレス）の削減</div><div id="t_r1" class="tx" style="left:415.00px;top:422.61px;font-size:12.30px;transform:scaleX(1.0213);color:#222222;-webkit-text-stroke:0.3px #222222">集中度の高い状態での業務実施</div><div id="t_l2" class="tx" style="left:131.57px;top:451.24px;font-size:12.30px;transform:scaleX(0.8763);color:#222222;-webkit-text-stroke:0.3px #222222">ワーク<span class=nd>・</span>ライフ<span class=nd>・</span>バランスの充実</div><div id="t_r2" class="tx" style="left:415.00px;top:452.24px;font-size:12.30px;transform:scaleX(1.0809);color:#222222;-webkit-text-stroke:0.3px #222222">顧客訪問時間/件数の増加</div><div id="t_l3" class="tx" style="left:133.17px;top:480.55px;font-size:12.30px;transform:scaleX(0.9963);color:#222222;-webkit-text-stroke:0.3px #222222">柔軟な働き方の実施に向けた職場の雰囲気の醸成</div><div id="t_r3" class="tx" style="left:415.00px;top:480.55px;font-size:12.30px;transform:scaleX(0.9495);color:#222222;-webkit-text-stroke:0.3px #222222">創造性の向上（新たな気づき、アイデアの創出等）</div><div id="t_l4" class="tx" style="left:133.03px;top:509.18px;font-size:12.30px;transform:scaleX(0.9773);color:#222222;-webkit-text-stroke:0.3px #222222">業務に対して自律的、主体的に取り組む意識の向上</div><div id="t_r4" class="tx" style="left:414.19px;top:509.30px;font-size:12.30px;transform:scaleX(0.9211);color:#222222;-webkit-text-stroke:0.3px #222222">その他</div>
<div class="lm" style="left:122px;top:424.2px;background:radial-gradient(ellipse 60% 50% at 50% 35%,#92b1dd,#3a72c2 70%,#25487c);box-shadow:inset 0 0 0 0.8px #1f3e6a"></div><div class="lm" style="left:405.3px;top:424.2px;background:radial-gradient(ellipse 60% 50% at 50% 35%,#e18d8d,#c93030 70%,#801e1e);box-shadow:inset 0 0 0 0.8px #6e1a1a"></div><div class="lm" style="left:122px;top:453.0px;background:radial-gradient(ellipse 60% 50% at 50% 35%,#bfdc93,#8cc13c 70%,#597b26);box-shadow:inset 0 0 0 0.8px #4d6a21"></div><div class="lm" style="left:405.3px;top:453.0px;background:radial-gradient(ellipse 60% 50% at 50% 35%,#b7a0cf,#7d53a8 70%,#50356b);box-shadow:inset 0 0 0 0.8px #442d5c"></div><div class="lm" style="left:122px;top:481.8px;background:radial-gradient(ellipse 60% 50% at 50% 35%,#90d3e8,#36b0d6 70%,#227088);box-shadow:inset 0 0 0 0.8px #1d6075"></div><div class="lm" style="left:405.3px;top:481.8px;background:radial-gradient(ellipse 60% 50% at 50% 35%,#f8bf87,#f48c26 70%,#9c5918);box-shadow:inset 0 0 0 0.8px #864d14"></div><div class="lm" style="left:122px;top:510.6px;background:radial-gradient(ellipse 60% 50% at 50% 35%,#839bba,#1e4a82 70%,#132f53);box-shadow:inset 0 0 0 0.8px #102847"></div><div class="lm" style="left:405.3px;top:510.6px;background:radial-gradient(ellipse 60% 50% at 50% 35%,#b88181,#7e1a1a 70%,#501010);box-shadow:inset 0 0 0 0.8px #450e0e"></div>
</body></html>
